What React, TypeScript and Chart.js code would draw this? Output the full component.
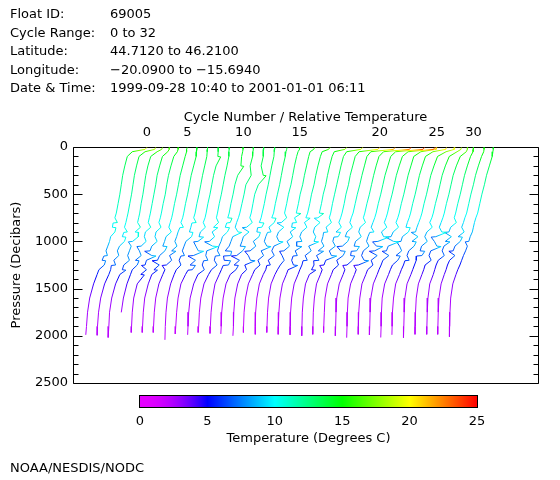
import React, { useEffect, useRef } from "react";
import { Chart, registerables } from "chart.js";

Chart.register(...registerables);

// ---- Header text ----
const INFO_LABELS = ["Float ID:", "Cycle Range:", "Latitude:", "Longitude:", "Date & Time:"];
const INFO_VALUES = [
  "69005",
  "0 to 32",
  "44.7120 to 46.2100",
  "\u221220.0900 to \u221215.6940",
  "1999-09-28 10:40 to 2001-01-01 06:11",
];

// ---- Data ----
// Pressure levels (decibars) shared by all profiles; the last value of each
// temperature row is the temperature at that cycle's deepest pressure.
const PRESSURE_LEVELS = [5, 25, 50, 100, 200, 300, 400, 500, 600, 700, 750, 800, 850, 900, 950, 1000, 1050, 1100, 1150, 1200, 1250, 1300, 1350, 1450, 1600, 1750, 1900];
const BOTTOM_PRESSURE = [1990, 1995, 2018, 1752, 1965, 1965, 1965, 2043, 1980, 1990, 1965, 1975, 1980, 2000, 1965, 1985, 1965, 1985, 1990, 2000, 1985, 1965, 2000, 2020, 1985, 1990, 2018, 1990, 2020, 1985, 1985, 1985, 2010];

// Temperature (deg C) per cycle at the levels above, last = bottom
const T_C00 = [19.4, 18.9, 15.3, 13.9, 13.2, 12.6, 12.2, 11.8, 11.3, 10.8, 10.4, 11.1, 9.7, 10.4, 9.2, 8.9, 8.4, 7.9, 8.3, 6.8, 7.4, 5.9, 5.4, 4.4, 3.3, 2.7, 2.4, 2.2];
const T_C01 = [18.7, 18.4, 15.7, 14.0, 13.3, 12.7, 12.3, 11.9, 11.4, 10.9, 10.6, 10.3, 9.9, 10.7, 9.3, 9.9, 8.5, 7.9, 8.3, 6.9, 7.4, 6.0, 5.5, 4.3, 3.2, 2.6, 2.3, 2.2];
const T_C02 = [17.4, 17.2, 15.9, 14.1, 13.3, 12.7, 12.3, 11.9, 11.4, 11.0, 10.7, 10.4, 11.2, 9.7, 10.6, 9.0, 8.6, 8.1, 7.6, 8.1, 6.5, 6.1, 5.4, 4.2, 3.1, 2.5, 2.3, 2.1];
const T_C03 = [16.2, 16.1, 15.7, 14.2, 13.4, 12.7, 12.3, 11.8, 11.3, 10.8, 10.5, 10.2, 10.9, 9.4, 9.1, 9.6, 8.2, 7.7, 8.2, 6.6, 7.1, 5.7, 5.2, 4.2, 3.2, null, null, 2.6];
const T_C04 = [15.5, 15.4, 15.2, 14.2, 13.4, 12.7, 12.2, 11.8, 11.2, 10.7, 10.4, 10.0, 10.6, 9.2, 8.9, 9.5, 8.0, 7.5, 8.0, 6.5, 6.1, 6.5, 4.9, 3.9, 2.9, 2.5, 2.3, 2.2];
const T_C05 = [14.8, 14.6, 14.6, 14.2, 13.5, 12.8, 12.3, 11.8, 11.2, 10.7, 10.4, 10.0, 9.6, 10.3, 8.8, 8.4, 7.9, 8.5, 7.0, 6.4, 6.9, 5.4, 4.8, 3.8, 2.8, 2.4, 2.2, 2.1];
const T_C06 = [14.3, 14.3, 14.2, 14.1, 13.4, 12.7, 12.2, 11.7, 11.1, 10.6, 10.3, 9.8, 10.5, 9.0, 8.6, 8.1, 8.7, 7.2, 6.6, 7.2, 5.7, 5.3, 4.7, 3.6, 2.7, 2.3, 2.1, 2.0];
const T_C07 = [14.1, 14.1, 14.0, 13.9, 13.3, 12.7, 12.2, 11.7, 11.1, 10.6, 10.2, 10.9, 9.4, 9.0, 9.6, 8.0, 7.5, 7.0, 7.6, 6.1, 6.6, 5.3, 4.7, 3.7, 2.8, 2.4, 2.2, 2.1];
const T_C08 = [13.9, 13.9, 13.9, 13.8, 13.3, 12.6, 12.1, 11.6, 11.0, 10.5, 10.2, 9.7, 10.3, 8.9, 8.5, 8.2, 7.6, 8.3, 6.9, 7.5, 6.0, 6.6, 4.7, 3.4, 2.6, 2.2, 1.95, 1.8];
const T_C09 = [13.8, 13.8, 13.7, 13.7, 13.2, 12.6, 12.1, 11.6, 11.0, 10.5, 10.2, 10.8, 9.4, 9.0, 9.7, 8.2, 9.1, 7.5, 7.2, 7.8, 6.2, 6.8, 5.0, 3.8, 2.8, 2.4, 2.2, 2.1];
const T_C10 = [14.6, 14.5, 14.4, 14.1, 13.9, 13.0, 12.2, 11.7, 11.1, 10.6, 10.2, 10.9, 9.5, 10.1, 8.7, 8.3, 7.7, 7.3, 8.0, 6.4, 7.2, 5.6, 4.8, 3.5, 2.6, 2.2, 2.0, 1.85];
const T_C11 = [14.2, 14.2, 14.1, 14.0, 13.3, 13.6, 12.1, 11.6, 11.0, 10.4, 10.0, 9.5, 9.1, 9.9, 8.4, 7.9, 7.4, 6.3, 7.8, 6.0, 7.2, 5.2, 4.6, 3.4, 2.7, 2.3, 2.1, 2.0];
const T_C12 = [13.9, 13.9, 13.8, 13.8, 13.2, 13.8, 12.4, 11.4, 10.9, 10.4, 10.0, 10.7, 9.1, 9.8, 8.2, 7.8, 7.3, 8.0, 6.3, 7.1, 5.6, 6.1, 4.5, 3.3, 2.5, 2.1, 1.95, 1.85];
const T_C13 = [13.8, 13.8, 13.7, 13.6, 13.0, 12.5, 12.0, 11.4, 10.9, 10.3, 10.0, 9.5, 10.2, 8.8, 9.4, 7.8, 8.5, 6.9, 6.4, 7.0, 5.4, 5.9, 4.5, 3.4, 2.6, 2.3, 2.2, 2.05];
const T_C14 = [14.1, 14.0, 13.8, 13.6, 13.0, 12.5, 12.0, 11.4, 10.8, 10.3, 9.8, 10.5, 9.0, 9.6, 8.1, 7.7, 8.4, 6.8, 7.5, 5.9, 6.5, 5.0, 4.4, 3.2, 2.4, 2.0, 1.85, 1.8];
const T_C15 = [14.5, 14.4, 14.0, 13.6, 13.0, 12.5, 12.0, 11.3, 10.8, 10.2, 10.8, 9.3, 10.0, 8.5, 8.0, 8.6, 7.2, 6.6, 7.3, 5.6, 6.2, 4.9, 4.2, 3.1, 2.4, 2.05, 1.95, 1.95];
const T_C16 = [15.5, 15.2, 14.2, 13.8, 13.2, 12.6, 12.1, 11.4, 10.9, 10.3, 9.8, 10.4, 9.0, 8.6, 9.3, 7.7, 8.4, 6.8, 6.3, 6.9, 5.8, 5.0, 4.3, 3.2, 2.5, 2.2, 2.05, 2.0];
const T_C17 = [16.6, 16.2, 14.4, 13.9, 13.2, 12.6, 12.1, 11.4, 10.9, 10.3, 9.8, 9.4, 10.1, 8.6, 8.1, 8.7, 7.2, 6.8, 7.4, 5.8, 6.3, 4.8, 4.3, 3.2, 2.5, 2.2, 2.05, 2.0];
const T_C18 = [18.1, 17.6, 14.6, 14.0, 13.3, 12.7, 12.2, 11.5, 11.0, 10.4, 10.0, 10.6, 9.1, 8.7, 9.4, 8.9, 7.4, 8.1, 6.4, 7.0, 5.5, 4.9, 4.4, 3.3, 2.6, 2.3, 2.2, 2.15];
const T_C19 = [19.4, 18.9, 14.9, 14.0, 13.3, 12.7, 12.1, 11.5, 10.9, 10.4, 10.0, 10.6, 9.1, 9.6, 8.2, 7.8, 8.5, 6.9, 6.4, 7.1, 5.7, 5.0, 4.4, 3.3, 2.7, 2.4, 2.3, 2.25];
const T_C20 = [21.0, 20.5, 15.2, 14.1, 13.4, 12.7, 12.2, 11.5, 11.0, 10.4, 10.0, 9.5, 10.2, 8.7, 9.3, 7.8, 8.5, 6.8, 7.4, 5.8, 5.3, 4.8, 4.3, 3.2, 2.6, 2.3, 2.2, 2.15];
const T_C21 = [22.1, 21.7, 15.3, 14.2, 13.5, 12.8, 12.2, 11.5, 10.9, 10.3, 9.8, 9.4, 10.1, 8.6, 8.1, 8.8, 7.3, 6.8, 7.5, 5.7, 6.2, 4.7, 4.2, 3.1, 2.4, 2.2, 2.05, 2.0];
const T_C22 = [23.4, 23.0, 15.7, 14.4, 13.6, 12.9, 12.3, 11.7, 11.0, 10.4, 10.0, 10.6, 9.1, 8.7, 9.4, 7.8, 7.4, 8.1, 6.4, 6.9, 5.4, 4.8, 4.3, 3.2, 2.5, 2.3, 2.2, 2.1];
const T_C23 = [24.0, 23.6, 15.9, 14.5, 13.7, 12.9, 12.3, 11.7, 11.0, 10.4, 10.0, 9.5, 9.0, 9.8, 8.1, 7.7, 8.4, 6.8, 6.3, 7.0, 5.4, 4.8, 4.3, 3.2, 2.5, 2.3, 2.2, 2.1];
const T_C24 = [23.7, 23.4, 16.2, 14.6, 13.7, 12.9, 12.3, 11.7, 11.0, 10.4, 10.0, 9.5, 10.2, 8.7, 9.3, 7.7, 7.3, 6.8, 7.5, 5.8, 6.3, 4.8, 4.3, 3.2, 2.6, 2.3, 2.2, 2.15];
const T_C25 = [21.1, 20.9, 16.6, 14.6, 13.8, 13.0, 12.4, 11.8, 11.1, 10.5, 10.1, 9.6, 10.3, 8.8, 8.2, 8.9, 7.4, 6.9, 7.6, 5.9, 5.4, 4.8, 4.3, 3.2, 2.5, 2.3, 2.2, 2.1];
const T_C26 = [20.6, 20.4, 16.8, 14.7, 13.8, 13.0, 12.4, 11.8, 11.1, 10.5, 10.1, 9.6, 9.2, 9.9, 8.2, 7.8, 7.4, 8.0, 6.4, 6.9, 5.4, 4.8, 4.3, 3.2, 2.5, 2.3, 2.2, 2.1];
const T_C27 = [19.8, 19.6, 17.3, 14.9, 13.9, 13.0, 12.4, 11.8, 11.1, 10.5, 10.1, 9.6, 9.1, 8.7, 9.4, 7.7, 8.3, 6.8, 6.3, 6.9, 5.3, 4.7, 4.2, 3.1, 2.5, 2.2, 2.1, 2.05];
const T_C28 = [18.4, 18.3, 17.2, 15.0, 13.9, 13.0, 12.4, 11.8, 11.1, 10.5, 10.1, 9.5, 10.2, 8.7, 8.1, 8.8, 7.2, 6.8, 7.3, 5.7, 5.2, 4.7, 4.2, 3.1, 2.5, 2.3, 2.2, 2.1];
const T_C29 = [17.0, 16.9, 16.6, 14.9, 13.8, 12.9, 12.3, 11.7, 11.0, 10.4, 10.0, 9.5, 9.0, 9.7, 8.0, 7.6, 8.3, 6.6, 6.1, 6.7, 5.0, 4.6, 4.1, 3.1, 2.5, 2.3, 2.2, 2.15];
const T_C30 = [15.4, 15.4, 15.3, 14.6, 13.7, 12.9, 12.3, 11.7, 11.0, 10.4, 10.0, 10.6, 9.0, 8.5, 9.2, 7.5, 7.1, 6.6, 7.2, 5.5, 4.9, 4.5, 4.1, 3.1, 2.6, 2.4, 2.3, 2.25];
const T_C31 = [15.2, 15.2, 15.1, 14.5, 13.6, 12.8, 12.2, 11.5, 10.9, 10.3, 9.8, 9.4, 8.9, 9.6, 7.9, 8.5, 7.0, 6.5, 7.0, 5.5, 4.9, 4.5, 4.0, 3.1, 2.5, 2.3, 2.2, 2.15];
const T_C32 = [14.6, 14.6, 14.5, 14.3, 13.5, 12.7, 12.1, 11.4, 10.8, 10.2, 9.7, 9.3, 9.0, 8.7, 8.1, 7.7, 7.3, 6.8, 6.2, 5.7, 5.2, 4.6, 4.1, 3.2, 2.6, 2.4, 2.3, 2.25];

const CYCLE_TEMPS: (number | null)[][] = [
  T_C00, T_C01, T_C02, T_C03, T_C04, T_C05, T_C06, T_C07, T_C08, T_C09, T_C10,
  T_C11, T_C12, T_C13, T_C14, T_C15, T_C16, T_C17, T_C18, T_C19, T_C20, T_C21,
  T_C22, T_C23, T_C24, T_C25, T_C26, T_C27, T_C28, T_C29, T_C30, T_C31, T_C32,
];

// Thin horizontal intrusions: cycle, level pressure,
// temperature excursion just below that level.
const SPIKE_CYCLE = [0,0,0,0, 1,1,1, 2,2,2, 3,3, 4,4,4,4, 5,5,5, 6,6,6, 7,7,7, 8,8,8,8,8,8,8, 9,9,9,9, 10,10,10,10,10, 11,11,11,11,11, 12,12,12,12,12, 13,13,13,13,13, 14,14,14, 15,15,15, 16,16,16,16, 17,17,17,17,17, 18,18,18,18, 19,19,19,19, 20,20,20,20, 21,21,21, 22,22,22,22, 23,23,23, 24,24,24,24, 25,25,25, 26,26,26, 27,27,27, 28,28, 29,29,29, 30,30, 31,31, 32];
const SPIKE_PRESSURE = [800,850,1150,1200, 900,950,1250, 900,1000,1300, 1050,1200, 1100,1150,1250,1350, 1050,1200,1300, 850,1100,1250, 800,900,1150, 100,950,1000,1100,1150,1250,1300, 850,1000,1050,1200, 200,750,800,850,1150, 900,1100,1150,1200,1250, 300,850,1050,1150,1250, 800,850,900,1100,1200, 750,900,1050, 800,1000,1250, 700,800,850,1100, 750,1000,1050,1150,1250, 700,750,1000,1200, 900,1100,1200,1300, 900,950,1150,1250, 950,1050,1100, 1050,1100,1150,1250, 900,1200,1250, 950,1000,1050,1100, 950,1000,1100, 850,1000,1150, 900,1000,1200, 1100,1150, 900,950,1050, 900,1000, 950,1100, 1000];
const SPIKE_DT = [-1.2,1.0,-1.0,1.0, -1.0,1.0,-1.2, 1.0,-1.2,1.0, -1.2,1.0, -1.5,1.2,-1.0,1.0, 1.2,-1.5,1.0, -1.0,1.2,-1.2, -1.2,1.0,-1.0, 0.8,1.3,-1.2,1.5,-1.5,1.5,-1.2, 1.2,-1.3,1.5,-1.2, 0.8,1.2,-1.0,1.2,-1.3, 1.0,1.8,-2.0,1.8,-1.5, 0.8,-1.2,1.5,-1.5,1.2, 1.3,-1.2,1.0,-1.5,1.3, 1.2,-1.0,1.2, -1.2,1.2,-1.0, 1.3,-1.2,1.2,-1.2, 1.2,-1.5,1.5,-1.2,1.2, 1.2,-1.0,1.3,-1.2, -1.2,1.5,-1.5,1.2, 1.3,-1.2,1.5,-1.2, 1.2,-1.5,1.3, 1.5,-1.5,1.2,-1.2, -1.2,1.3,-1.3, 1.5,-1.5,1.8,-1.5, -1.5,1.5,-1.2, 1.2,-1.2,1.2, -1.2,1.2,-1.2, 1.3,-1.5, 1.3,-1.3,1.2, -1.2,1.3, 1.2,-1.2, -1.0];
const SPIKE_DP = 5;

// Each cycle is offset by this many degrees on the relative-temperature axis.
const CYCLE_OFFSET = 3.2;
const X_MIN = -1.4;
const X_MAX = 129.6;
const TOP_TICK_CYCLES = [0, 5, 10, 15, 20, 25, 30];
const PRESSURE_TICKS = [0, 500, 1000, 1500, 2000, 2500];
const PRESSURE_MINOR_STEP = 100;
const COLORBAR_TICKS = [0, 5, 10, 15, 20, 25];

const FONT_FAMILY = "'DejaVu Sans', sans-serif";
const FONT = { family: FONT_FAMILY, size: 13, lineHeight: 1.2 };

function tempColor(t: number): string {
  const v = Math.max(0, Math.min(25, t));
  let r = 0, g = 0, b = 0;
  if (v < 5) {
    const f = v / 5;
    r = 230 * (1 - f * f); g = 0; b = 255;
  } else if (v < 10) {
    const f = (v - 5) / 5;
    r = 0; g = 255 * f; b = 255;
  } else if (v < 15) {
    const f = (v - 10) / 5;
    r = 0; g = 255; b = 255 * (1 - f);
  } else if (v < 20) {
    const f = (v - 15) / 5;
    r = 255 * f; g = 255; b = 0;
  } else {
    const f = (v - 20) / 5;
    r = 255; g = 255 * (1 - f); b = 0;
  }
  return `rgb(${Math.round(r)},${Math.round(g)},${Math.round(b)})`;
}

type Pt = { x: number; y: number; t: number };

function spikeFor(c: number, p: number): number | null {
  const n = Math.min(SPIKE_CYCLE.length, SPIKE_PRESSURE.length, SPIKE_DT.length);
  for (let k = 0; k < n; k++) {
    if (SPIKE_CYCLE[k] === c && SPIKE_PRESSURE[k] === p) return SPIKE_DT[k];
  }
  return null;
}

function segmentColor(ctx: any) {
  const d = ctx.chart.data.datasets[ctx.datasetIndex].data as Pt[];
  const a = d[ctx.p0DataIndex];
  const b = d[ctx.p1DataIndex];
  const mid = tempColor((a.t + b.t) / 2);
  const p0 = ctx.p0;
  const p1 = ctx.p1;
  if (!p0 || !p1 || !isFinite(p0.x) || !isFinite(p1.x) || !isFinite(p0.y) || !isFinite(p1.y)) return mid;
  const dx = p1.x - p0.x;
  const dy = p1.y - p0.y;
  if (dx * dx + dy * dy < 0.01 || Math.abs(a.t - b.t) < 0.3) return mid;
  const g = ctx.chart.ctx.createLinearGradient(p0.x, p0.y, p1.x, p1.y);
  const n = 6;
  for (let k = 0; k <= n; k++) {
    g.addColorStop(k / n, tempColor(a.t + ((b.t - a.t) * k) / n));
  }
  return g;
}

function buildDatasets() {
  return CYCLE_TEMPS.map((temps, c) => {
    const pts: Pt[] = [];
    temps.forEach((t, i) => {
      if (t === null || t === undefined) return;
      const isBottom = i >= PRESSURE_LEVELS.length;
      const p = isBottom ? BOTTOM_PRESSURE[c] : PRESSURE_LEVELS[i];
      pts.push({ x: c * CYCLE_OFFSET + t, y: p, t });
      if (!isBottom) {
        const dt = spikeFor(c, p);
        if (dt !== null) {
          const ts = t + dt;
          pts.push({ x: c * CYCLE_OFFSET + ts, y: p + SPIKE_DP, t: ts });
        }
      }
    });
    return {
      label: `Cycle ${c}`,
      data: pts,
      borderWidth: 1,
      pointRadius: 0,
      fill: false,
      tension: 0,
      borderColor: "#00f",
      segment: { borderColor: segmentColor },
    };
  });
}

const CB_LEFT = 140;
const CB_RIGHT = 477;
const CB_TOP = 396;
const CB_BOTTOM = 407;

const extrasPlugin = {
  id: "extras",
  beforeDatasetsDraw(chart: any) {
    const { ctx, chartArea: a, scales } = chart;
    ctx.save();
    ctx.strokeStyle = "#000";
    ctx.lineWidth = 1;
    const L = Math.round(a.left) + 0.5;
    const R = Math.round(a.right) + 0.5;
    const T = Math.round(a.top) + 0.5;
    const B = Math.round(a.bottom) + 0.5;
    ctx.beginPath();
    ctx.rect(L, T, R - L, B - T);
    ctx.stroke();
    // inward ticks on left and right
    ctx.beginPath();
    const ys = scales.y;
    for (let v = ys.min; v <= ys.max; v += PRESSURE_MINOR_STEP) {
      const y = Math.round(ys.getPixelForValue(v)) + 0.5;
      const len = v % 500 === 0 ? 9 : 5;
      ctx.moveTo(L, y); ctx.lineTo(L + len, y);
      ctx.moveTo(R - len, y); ctx.lineTo(R, y);
    }
    ctx.stroke();
    ctx.restore();
  },
  afterDraw(chart: any) {
    const { ctx } = chart;
    ctx.save();
    // header
    ctx.fillStyle = "#000";
    ctx.font = `13px ${FONT_FAMILY}`;
    ctx.textAlign = "left";
    ctx.textBaseline = "alphabetic";
    INFO_LABELS.forEach((lab, i) => {
      const y = 18 + i * 18.5;
      ctx.fillText(lab, 10, y);
      ctx.fillText(INFO_VALUES[i], 110, y);
    });

    // colorbar
    const cmin = COLORBAR_TICKS[0];
    const cmax = COLORBAR_TICKS[COLORBAR_TICKS.length - 1];
    for (let x = CB_LEFT; x < CB_RIGHT; x++) {
      const t = cmin + ((x + 0.5 - CB_LEFT) / (CB_RIGHT - CB_LEFT)) * (cmax - cmin);
      ctx.fillStyle = tempColor(t);
      ctx.fillRect(x, CB_TOP, 1, CB_BOTTOM - CB_TOP);
    }
    ctx.strokeStyle = "#000";
    ctx.lineWidth = 1;
    ctx.strokeRect(CB_LEFT - 0.5, CB_TOP - 0.5, CB_RIGHT - CB_LEFT + 1, CB_BOTTOM - CB_TOP + 1);
    ctx.fillStyle = "#000";
    ctx.textAlign = "center";
    ctx.textBaseline = "middle";
    COLORBAR_TICKS.forEach((v) => {
      const x = CB_LEFT + ((v - cmin) / (cmax - cmin)) * (CB_RIGHT - CB_LEFT);
      ctx.fillText(String(v), x, 421.5);
    });
    ctx.fillText("Temperature (Degrees C)", (CB_LEFT + CB_RIGHT) / 2, 439);

    // footer
    ctx.textAlign = "left";
    ctx.fillText("NOAA/NESDIS/NODC", 10, 468.5);
    ctx.restore();
  },
};

export default function App() {
  const ref = useRef<HTMLCanvasElement>(null);
  useEffect(() => {
    if (!ref.current) return;
    const chart = new Chart(ref.current, {
      type: "line",
      data: { datasets: buildDatasets() as any },
      options: {
        responsive: false,
        devicePixelRatio: 1,
        animation: false,
        events: [],
        layout: { padding: { left: 0, top: 0, right: 22, bottom: 97 } },
        plugins: { legend: { display: false }, tooltip: { enabled: false }, title: { display: false } },
        scales: {
          x: {
            type: "linear",
            position: "top",
            min: X_MIN,
            max: X_MAX,
            afterBuildTicks: (scale: any) => {
              scale.ticks = TOP_TICK_CYCLES.map((c) => ({ value: c * CYCLE_OFFSET + (CYCLE_TEMPS[c][0] as number) }));
            },
            afterFit: (scale: any) => {
              scale.height = 147;
            },
            ticks: {
              autoSkip: false,
              maxRotation: 0,
              padding: 7,
              color: "#000",
              font: FONT,
              callback: (_v: any, i: number) => String(TOP_TICK_CYCLES[i]),
            },
            grid: { display: false, drawTicks: false },
            border: { display: false },
            title: {
              display: true,
              text: "Cycle Number / Relative Temperature",
              color: "#000",
              font: FONT,
              padding: { top: 110, bottom: 0 },
            },
          },
          y: {
            type: "linear",
            position: "left",
            reverse: true,
            min: 0,
            max: 2500,
            afterBuildTicks: (scale: any) => {
              scale.ticks = PRESSURE_TICKS.map((v) => ({ value: v }));
            },
            afterFit: (scale: any) => {
              scale.width = 73;
            },
            ticks: {
              padding: 5,
              color: "#000",
              font: FONT,
              callback: (v: any) => String(v),
            },
            grid: { display: false, drawTicks: false },
            border: { display: false },
            title: {
              display: true,
              text: "Pressure (Decibars)",
              color: "#000",
              font: FONT,
              padding: { top: 9, bottom: 0 },
            },
          },
        },
      } as any,
      plugins: [extrasPlugin],
    });
    return () => chart.destroy();
  }, []);
  return (
    <div style={{ position: "absolute", left: 0, top: 0, width: 560, height: 480, background: "#fff" }}>
      <canvas ref={ref} width={560} height={480} style={{ width: 560, height: 480, display: "block" }} />
    </div>
  );
}
